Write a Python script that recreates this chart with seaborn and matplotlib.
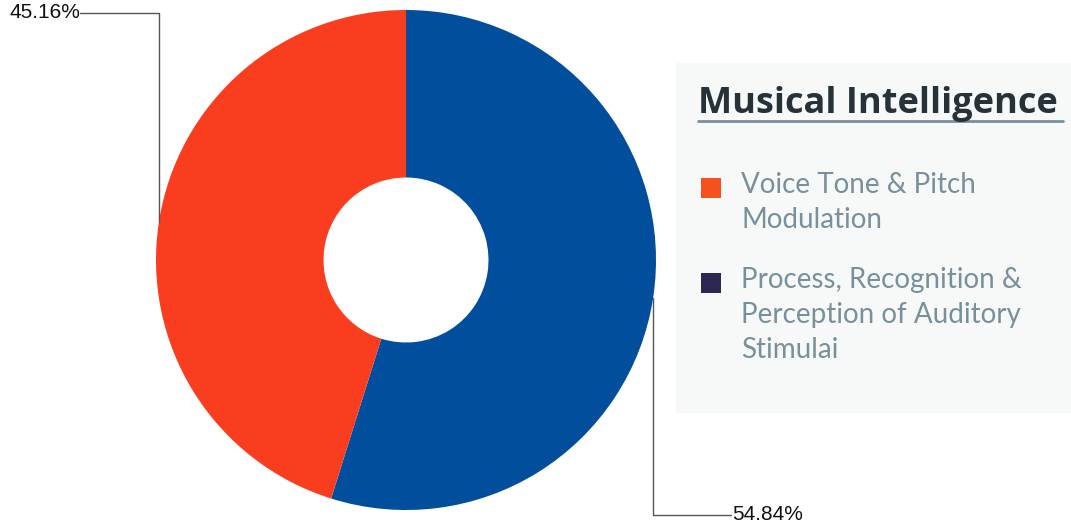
import numpy as np
import matplotlib
matplotlib.use("Agg")
import matplotlib.pyplot as plt
from matplotlib.patches import Rectangle
import seaborn as sns

# Data
categories = ["Process, Recognition & Perception of Auditory Stimulai",
              "Voice Tone & Pitch Modulation"]
values = [54.84, 45.16]
pct_labels = ["54.84%", "45.16%"]
slice_colors = ["#004E9C", "#FA3C1F"]

legend_title = "Musical Intelligence"
legend_lines = [["Voice Tone & Pitch", "Modulation"],
                ["Process, Recognition &", "Perception of Auditory", "Stimulai"]]
legend_colors = ["#F4511E", "#2B2652"]

sns.set_theme(style="white")
plt.rcParams["font.family"] = ["Liberation Sans", "DejaVu Sans"]

W, H = 1071, 529
fig = plt.figure(figsize=(W / 100, H / 100), dpi=100)
ax = fig.add_axes([0, 0, 1, 1])

# pixel-style coordinates (y measured upward)
def py(y):
    return H - y

cx, cy, R = 406, py(260), 250
wedges, _ = ax.pie(values, colors=slice_colors, startangle=90, counterclock=False,
                   radius=R, center=(cx, cy),
                   wedgeprops=dict(width=R * 0.67, linewidth=0))
ax.set_xlim(0, W)
ax.set_ylim(0, H)
ax.set_aspect("equal")
ax.axis("off")

# leader lines from each slice's mid-angle to its percentage label
line_kw = dict(color="#555555", lw=1.0)
for w, lab in zip(wedges, pct_labels):
    ang = np.deg2rad((w.theta1 + w.theta2) / 2)
    ax_x = cx + R * np.cos(ang)
    ax_y = cy + R * np.sin(ang)
    if np.cos(ang) > 0:
        ly = py(515)
        ax.plot([ax_x, ax_x, 731], [ax_y, ly, ly], **line_kw)
        ax.text(732, ly, lab, ha="left", va="center", fontsize=15, color="#111111")
    else:
        ly = py(13)
        ax.plot([ax_x, ax_x, 80], [ax_y, ly, ly], **line_kw)
        ax.text(80, ly, lab, ha="right", va="center", fontsize=15, color="#111111")

# legend panel
ax.add_patch(Rectangle((676, py(413)), W - 676, 413 - 63, facecolor="#F7F9F9",
                       edgecolor="none", zorder=0))
ax.text(698, py(113), legend_title, ha="left", va="baseline", fontsize=26,
        fontweight="bold", color="#263238", family=["Open Sans", "DejaVu Sans"])
ax.plot([698, 1063], [py(121), py(121)], color="#78909C", lw=2)

sq = 20
item_first_baselines = [193, 288]
for lines, col, base in zip(legend_lines, legend_colors, item_first_baselines):
    ax.add_patch(Rectangle((701, py(base + 5)), sq, sq, facecolor=col, edgecolor="none"))
    for i, t in enumerate(lines):
        ax.text(741, py(base + 35 * i), t, ha="left", va="baseline", fontsize=20,
                color="#78909C", family=["Lato", "DejaVu Sans"])

fig.savefig("out.png", dpi=100)
